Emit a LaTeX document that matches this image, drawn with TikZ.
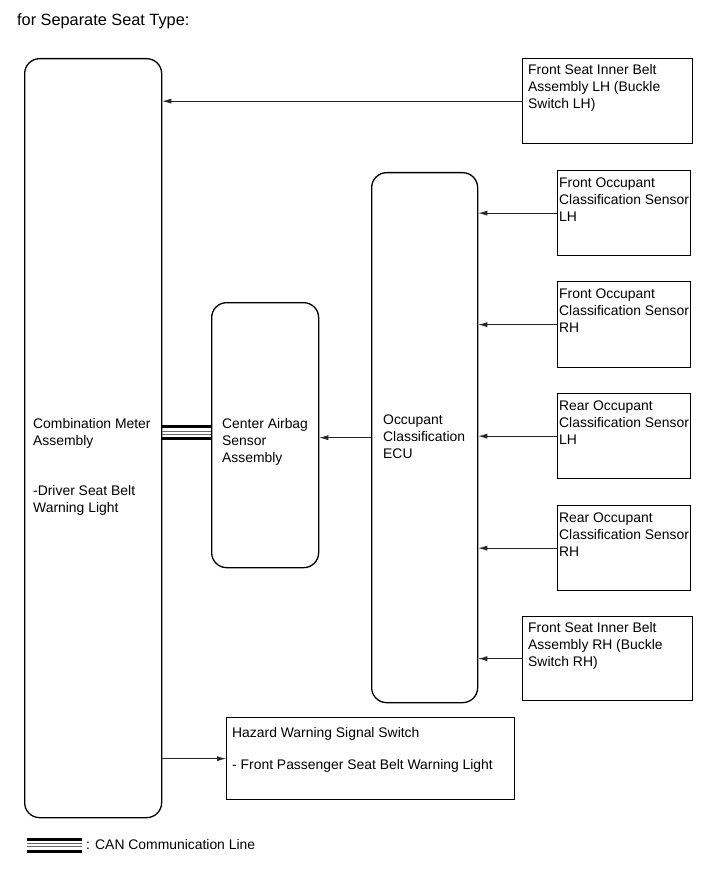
\documentclass[tikz,border=0pt]{standalone}
\usepackage{fontspec}
\setmainfont{Liberation Sans}
\usetikzlibrary{arrows.meta}
\newcommand{\boxcol}{black}
\newcommand{\linecol}{black!85}

\tikzset{
  blk/.style 2 args={draw=\boxcol, line width=1.3pt, inner sep=0pt, anchor=north west,
    minimum width=#1pt, minimum height=#2pt},
  rnd/.style={rounded corners=15pt},
  txt/.style={anchor=west, align=left, inner sep=0pt, font=\fontsize{13.9}{17}\selectfont},
  arr/.style={draw=\linecol, line width=0.75pt, -{Latex[length=9pt,width=5pt]}},
}

\begin{document}
\begin{tikzpicture}[x=1pt, y=-1pt]
    \useasboundingbox (0,0) rectangle (713,882);

    \node[anchor=west, inner sep=0pt, font=\fontsize{16.3}{19}\selectfont] (ttl) at (17,21) {for Separate Seat Type:};

    % boites
    \node[blk={137}{759}, rnd] (cmb) at (24,58) {};
    \node[blk={107}{265}, rnd] (cab) at (211,302) {};
    \node[blk={106}{530}, rnd] (ecu) at (371,172) {};
    \node[blk={170}{85}] (blh) at (522,58) {};
    \node[blk={133}{85}] (folh) at (557,170) {};
    \node[blk={133}{86}] (forh) at (557,281) {};
    \node[blk={133}{85}] (rolh) at (557,393) {};
    \node[blk={133}{85}] (rorh) at (557,505) {};
    \node[blk={170}{84}] (brh) at (522,616) {};
    \node[blk={288}{82}] (haz) at (226,717) {};

    % textes
    \node[txt] (tcmb) at (33,433) {Combination Meter\\Assembly};
    \node[txt] (tdrv) at (33,500) {-Driver Seat Belt\\Warning Light};
    \node[txt] (tcab) at (222,442) {Center Airbag\\Sensor\\Assembly};
    \node[txt] (tecu) at (383,437) {Occupant\\Classification\\ECU};
    \node[txt] (tblh) at ([xshift=6pt, yshift=-30pt]blh.north west) {Front Seat Inner Belt\\Assembly LH (Buckle\\Switch LH)};
    \node[txt] (tfolh) at ([xshift=2pt, yshift=-30pt]folh.north west) {Front Occupant\\Classification Sensor\\LH};
    \node[txt] (tforh) at ([xshift=2pt, yshift=-30pt]forh.north west) {Front Occupant\\Classification Sensor\\RH};
    \node[txt] (trolh) at ([xshift=2pt, yshift=-30pt]rolh.north west) {Rear Occupant\\Classification Sensor\\LH};
    \node[txt] (trorh) at ([xshift=2pt, yshift=-30pt]rorh.north west) {Rear Occupant\\Classification Sensor\\RH};
    \node[txt] (tbrh) at ([xshift=6pt, yshift=-30pt]brh.north west) {Front Seat Inner Belt\\Assembly RH (Buckle\\Switch RH)};
    \node[txt] (thaz) at ([xshift=6pt, yshift=-17pt]haz.north west) {Hazard Warning Signal Switch};
    \node[txt] (tpas) at ([xshift=6pt, yshift=-49pt]haz.north west) {- Front Passenger Seat Belt Warning Light};

    % fleches
    \draw[arr] (blh.west) -- (blh.west -| cmb.east);
    \draw[arr] (folh.west) -- (folh.west -| ecu.east);
    \draw[arr] (forh.west) -- (forh.west -| ecu.east);
    \draw[arr] (rolh.west) -- (rolh.west -| ecu.east);
    \draw[arr] (rorh.west) -- (rorh.west -| ecu.east);
    \draw[arr] (brh.west) -- (brh.west -| ecu.east);
    \draw[arr] (ecu.west) -- (ecu.west -| cab.east);
    \draw[arr] (haz.west -| cmb.east) -- (haz.west);

    % ligne CAN
    \coordinate (cnA) at (cab.west -| cmb.east);
    \coordinate (cnB) at (cab.west);
    \foreach \dy/\w/\c in {8.5/3/black, 4/0.7/black!60, 1/0.7/black!60, -3.5/3/black}
      \draw[draw=\c, line width=\w pt] ([yshift=\dy pt]cnA) -- ([yshift=\dy pt]cnB);

    % legende
    \coordinate (lgA) at (27,845);
    \coordinate (lgB) at (82,845);
    \foreach \dy/\w/\c in {6/3/black, 1.5/0.7/black!60, -1.5/0.7/black!60, -6/3/black}
      \draw[draw=\c, line width=\w pt] ([yshift=\dy pt]lgA) -- ([yshift=\dy pt]lgB);
    \node[txt] (tlg) at (86,845) {: CAN Communication Line};

  \end{tikzpicture}
\end{document}
